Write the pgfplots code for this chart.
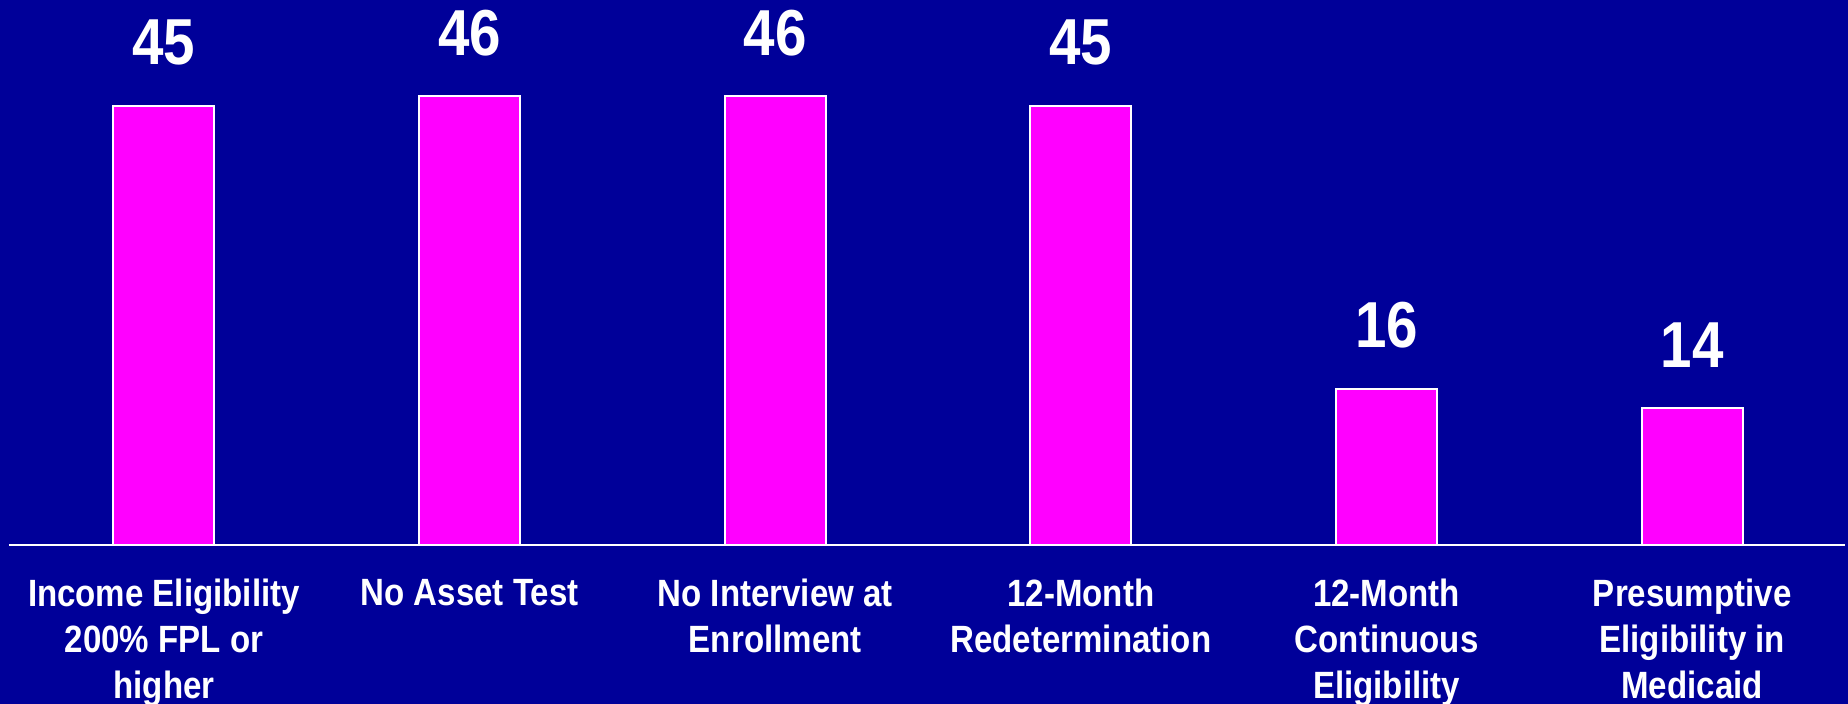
\documentclass[border=0pt]{standalone}
\usepackage{pgfplots}
\pgfplotsset{compat=1.18}
\usepackage{fontspec}
\setmainfont{Liberation Sans}
\newfontfamily\cond[FakeStretch=0.87]{Liberation Sans}
\definecolor{bg}{HTML}{000099}
\definecolor{mag}{HTML}{FF00FF}
\begin{document}
\begin{tikzpicture}
\fill[bg] (0,0) rectangle (924pt,352pt);
\useasboundingbox (0,0) rectangle (924pt,352pt);
\begin{axis}[
  at={(4.5pt,79.5pt)}, anchor=south west,
  scale only axis, width=918pt, height=272.5pt,
  xmin=-0.507, xmax=5.5, ymin=0, ymax=55.86,
  axis y line=none, axis x line=bottom,
  x axis line style={white, line width=1pt, -},
  xtick=data, major tick length=0pt,
  ytick=\empty,
  xticklabels={{Income Eligibility\\200\% FPL or\\higher},{No Asset Test},{No Interview at\\Enrollment},{12-Month\\Redetermination},{12-Month\\Continuous\\Eligibility},{Presumptive\\Eligibility in\\Medicaid}},
  xticklabel style={text=white, font=\cond\bfseries\fontsize{19}{23}\selectfont, align=center, anchor=north, inner sep=0pt, yshift=-17pt},
  ybar, bar width=50.5pt,
  nodes near coords={\pgfmathprintnumber[assume math mode=true]{\pgfplotspointmeta}},
  every node near coord/.append style={anchor=base, yshift=20.5pt, inner sep=0pt, text=white, font=\cond\bfseries\fontsize{32.5}{38}\selectfont},
  clip=false,
]
\addplot[fill=mag, draw=white, line width=1pt] coordinates {(0,45) (1,46) (2,46) (3,45) (4,16) (5,14)};
\end{axis}
\end{tikzpicture}
\end{document}
